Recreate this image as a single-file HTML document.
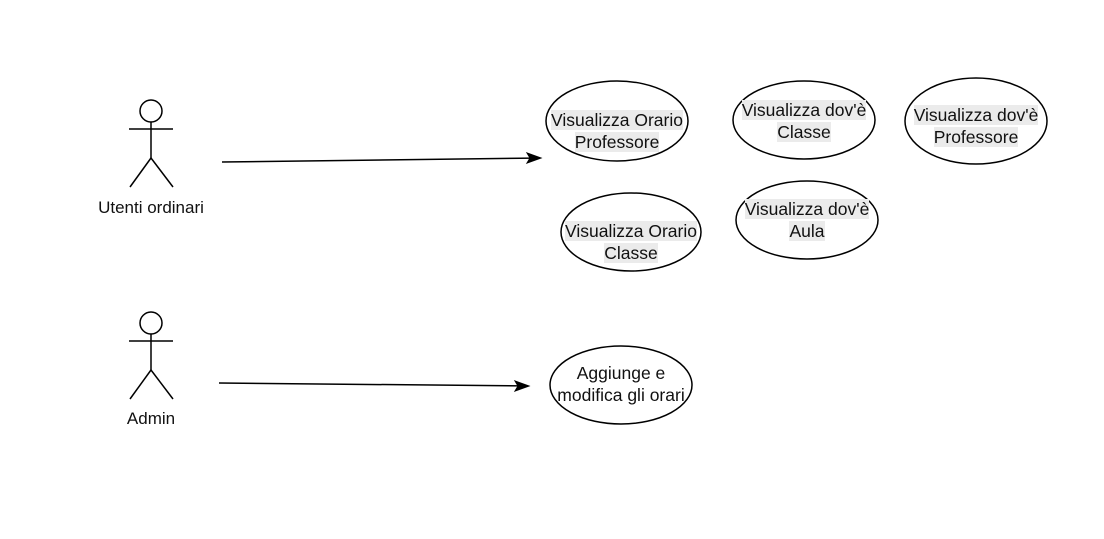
<!DOCTYPE html>
<html><head><meta charset="utf-8"><style>
html,body{margin:0;padding:0;background:#fff;}
body{width:1104px;height:539px;position:relative;overflow:hidden;font-family:"Liberation Sans",Arial,sans-serif;}
svg{position:absolute;left:0;top:0;}
.t{position:absolute;width:200px;text-align:center;font-size:17.5px;line-height:21.5px;color:#111;}
.t span{background:#ebebeb;}
.l{position:absolute;width:200px;text-align:center;font-size:17px;color:#111;}
</style></head><body>
<svg width="1104" height="539" viewBox="0 0 1104 539">
<g fill="none" stroke="#000" stroke-width="1.5">
<circle cx="151" cy="111" r="11"/>
<line x1="129" y1="129" x2="173" y2="129"/>
<line x1="151" y1="122" x2="151" y2="158"/>
<line x1="151" y1="158" x2="130" y2="187"/>
<line x1="151" y1="158" x2="173" y2="187"/>
<circle cx="151" cy="323" r="11"/>
<line x1="129" y1="341" x2="173" y2="341"/>
<line x1="151" y1="334" x2="151" y2="370"/>
<line x1="151" y1="370" x2="130" y2="399"/>
<line x1="151" y1="370" x2="173" y2="399"/>
<ellipse cx="617" cy="121" rx="71" ry="40"/>
<ellipse cx="804" cy="120" rx="71" ry="39"/>
<ellipse cx="976" cy="121" rx="71" ry="43"/>
<ellipse cx="631" cy="232" rx="70" ry="39"/>
<ellipse cx="807" cy="220" rx="71" ry="39"/>
<ellipse cx="621" cy="385" rx="71" ry="39"/>
<line x1="222" y1="162" x2="532" y2="158.1"/>
<line x1="219" y1="383" x2="520" y2="385.9"/>
</g>
<path d="M541,158 L527,163 L530,158 L527,153 Z" fill="#000" stroke="#000"/>
<path d="M529,386 L515,391 L518,386 L515,381 Z" fill="#000" stroke="#000"/>
</svg>
<div class="l" style="left:51px;top:198px;">Utenti ordinari</div>
<div class="l" style="left:51px;top:409px;">Admin</div>
<div class="t" style="left:517px;top:110px;"><span>Visualizza Orario</span><br><span>Professore</span></div>
<div class="t" style="left:704px;top:100px;"><span>Visualizza dov'è</span><br><span>Classe</span></div>
<div class="t" style="left:876px;top:105px;"><span>Visualizza dov'è</span><br><span>Professore</span></div>
<div class="t" style="left:531px;top:221px;"><span>Visualizza Orario</span><br><span>Classe</span></div>
<div class="t" style="left:707px;top:199px;"><span>Visualizza dov'è</span><br><span>Aula</span></div>
<div class="t" style="left:521px;top:363px;">Aggiunge e<br>modifica gli orari</div>
</body></html>
